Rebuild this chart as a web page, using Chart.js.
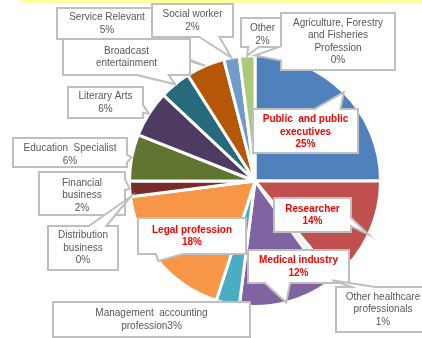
<!DOCTYPE html>
<html>
<head>
<meta charset="utf-8">
<script src="https://cdn.jsdelivr.net/npm/chart.js@4.4.0/dist/chart.umd.min.js"></script>
<style>
  html, body { margin: 0; padding: 0; background: #fff; }
  #wrap { position: relative; width: 422px; height: 338px; overflow: hidden; }
  #band { position: absolute; left: 22px; top: 0; width: 400px; height: 3px; background: #FFFF9E; }
  canvas { position: absolute; left: 0; top: 0; }
</style>
</head>
<body>
<div id="wrap">
  <canvas id="chart" width="422" height="338"></canvas>
  <div id="band"></div>
</div>
<script>
// slices, clockwise from 12 o'clock
const categories = [
    'Public and public executives', 'Researcher', 'Other healthcare professionals',
    'Medical industry', 'Management accounting profession', 'Legal profession',
    'Distribution business', 'Financial business', 'Education Specialist',
    'Literary Arts', 'Broadcast entertainment', 'Service Relevant',
    'Social worker', 'Other', 'Agriculture, Forestry and Fisheries Profession'
];
const shares = [25, 14, 1, 12, 3, 18, 0, 2, 6, 6, 4, 5, 2, 2, 0];
const sliceColors = [
    '#4F81BD', '#C0504D', '#EEECE1', '#8064A2', '#4BACC6', '#F79646',
    '#9BBB59', '#772C2A', '#5F7530', '#4D3B62', '#276A7C', '#B65708',
    '#729ACA', '#AFC97A', '#CDDDAC'
];

// callout boxes: slice index, box [x, y, w, h], text lines ({v} = value)
const callouts = [
    { i: 11, box: [57, 8, 100, 31], lines: ['Service Relevant', '{v}%'] },
    { i: 12, box: [152, 4, 81, 33], lines: ['Social worker', '{v}%'] },
    { i: 10, box: [63, 39, 127, 36], lines: ['Broadcast', 'entertainment'] },
    { i: 13, box: [241, 18, 43, 29], lines: ['Other', '{v}%'], dy: 2 },
    { i: 14, box: [281, 13, 114, 57], lines: ['Agriculture, Forestry', 'and Fisheries', 'Profession', '{v}%'] },
    { i: 9, box: [68, 87, 75, 31], lines: ['Literary Arts', '{v}%'] },
    { i: 8, box: [13, 138, 114, 29], lines: ['Education  Specialist', '{v}%'], dy: 2 },
    { i: 7, box: [39, 172, 86, 43], lines: ['Financial', 'business', '{v}%'], dy: 2 },
    { i: 6, box: [48, 226, 70, 44], lines: ['Distribution', 'business', '{v}%'] },
    { i: 4, box: [53, 302, 197, 35], lines: ['Management  accounting', 'profession{v}%'] },
    { i: 5, box: [138, 218, 108, 36], lines: ['Legal profession', '{v}%'], red: true },
    { i: 0, box: [253, 109, 105, 44], lines: ['Public  and public', 'executives', '{v}%'], red: true, dy: 1 },
    { i: 1, box: [274, 198, 77, 34], lines: ['Researcher', '{v}%'], red: true },
    { i: 3, box: [248, 250, 101, 33], lines: ['Medical industry', '{v}%'], red: true },
    { i: 2, box: [336, 287, 94, 45], lines: ['Other healthcare', 'professionals', '{v}%'] }
];

const FONT = '"Liberation Sans", Arial, sans-serif';

function calloutPath(ctx, box, tx, ty) {
    const [x, y, w, h] = box;
    const cx = x + w / 2, cy = y + h / 2;
    const dx = tx - cx, dy = ty - cy;
    const x1 = x + w * (dx > 0 ? 7 : 2) / 12, x2 = x + w * (dx > 0 ? 10 : 5) / 12;
    const y1 = y + h * (dy > 0 ? 7 : 2) / 12, y2 = y + h * (dy > 0 ? 10 : 5) / 12;
    const inside = tx > x && tx < x + w && ty > y && ty < y + h;
    let side = null;
    if (!inside) {
        if (Math.abs(dx) * h > Math.abs(dy) * w) side = dx < 0 ? 'l' : 'r';
        else side = dy < 0 ? 't' : 'b';
    }
    ctx.beginPath();
    ctx.moveTo(x, y);
    if (side === 't') { ctx.lineTo(x1, y); ctx.lineTo(tx, ty); ctx.lineTo(x2, y); }
    ctx.lineTo(x + w, y);
    if (side === 'r') { ctx.lineTo(x + w, y1); ctx.lineTo(tx, ty); ctx.lineTo(x + w, y2); }
    ctx.lineTo(x + w, y + h);
    if (side === 'b') { ctx.lineTo(x2, y + h); ctx.lineTo(tx, ty); ctx.lineTo(x1, y + h); }
    ctx.lineTo(x, y + h);
    if (side === 'l') { ctx.lineTo(x, y2); ctx.lineTo(tx, ty); ctx.lineTo(x, y1); }
    ctx.closePath();
}

const calloutPlugin = {
    id: 'callouts',
    afterDraw(chart) {
        const ctx = chart.ctx;
        const meta = chart.getDatasetMeta(0);
        ctx.save();
        callouts.forEach(c => {
            const arc = meta.data[c.i].getProps(['x', 'y', 'startAngle', 'endAngle', 'outerRadius'], true);
            const mid = (arc.startAngle + arc.endAngle) / 2;
            const tx = arc.x + Math.cos(mid) * arc.outerRadius;
            const ty = arc.y + Math.sin(mid) * arc.outerRadius;

            calloutPath(ctx, c.box, tx, ty);
            ctx.fillStyle = '#FFFFFF';
            ctx.fill();
            ctx.strokeStyle = '#BFBFBF';
            ctx.lineWidth = 2;
            ctx.lineJoin = 'miter';
            ctx.stroke();

            const [x, y, w, h] = c.box;
            const lh = 12.5;
            const top = y + h / 2 - (c.lines.length - 1) * lh / 2 + (c.dy || 0);
            ctx.font = (c.red ? 'bold ' : '') + '10px ' + FONT;
            ctx.fillStyle = c.red ? '#FF0000' : '#595959';
            ctx.textAlign = 'center';
            ctx.textBaseline = 'middle';
            c.lines.forEach((line, k) => {
                ctx.fillText(line.replace('{v}', shares[c.i]), x + w / 2, top + k * lh);
            });
        });
        ctx.restore();
    }
};

new Chart(document.getElementById('chart'), {
    type: 'pie',
    data: {
        labels: categories,
        datasets: [{
            data: shares,
            backgroundColor: sliceColors,
            borderColor: '#FFFFFF',
            borderWidth: 3
        }]
    },
    options: {
        responsive: false,
        animation: false,
        devicePixelRatio: 1,
        layout: { padding: { left: 128, right: 40, top: 54, bottom: 30 } },
        plugins: {
            legend: { display: false },
            tooltip: { enabled: false }
        }
    },
    plugins: [calloutPlugin]
});
</script>
</body>
</html>
